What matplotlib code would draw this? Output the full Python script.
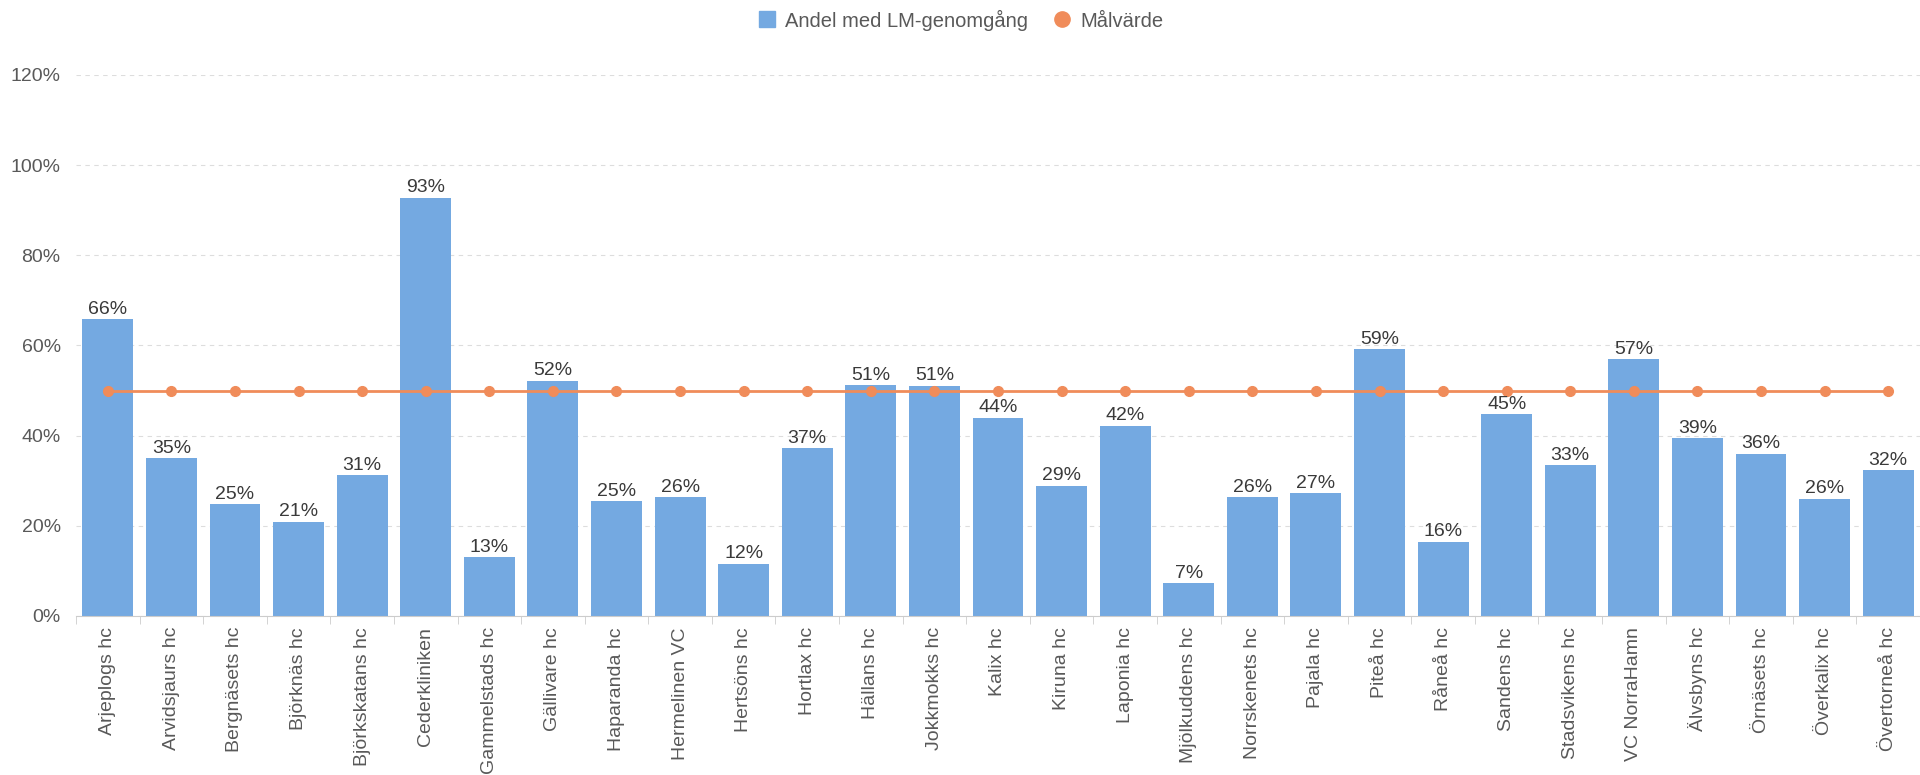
import matplotlib
matplotlib.use("Agg")
import matplotlib.pyplot as plt
from matplotlib.ticker import FixedLocator, PercentFormatter
from matplotlib.lines import Line2D
import numpy as np

categories = ["Arjeplogs hc", "Arvidsjaurs hc", "Bergnäsets hc", "Björknäs hc", "Björkskatans hc",
              "Cederkliniken", "Gammelstads hc", "Gällivare hc", "Haparanda hc", "Hermelinen VC",
              "Hertsöns hc", "Hortlax hc", "Hällans hc", "Jokkmokks hc", "Kalix hc", "Kiruna hc",
              "Laponia hc", "Mjölkuddens hc", "Norrskenets hc", "Pajala hc", "Piteå hc", "Råneå hc",
              "Sandens hc", "Stadsvikens hc", "VC NorraHamn", "Älvsbyns hc", "Örnäsets hc",
              "Överkalix hc", "Övertorneå hc"]
andel = [0.659, 0.35, 0.248, 0.209, 0.313, 0.928, 0.13, 0.522, 0.254, 0.263,
         0.116, 0.372, 0.512, 0.511, 0.44, 0.289, 0.422, 0.073, 0.264, 0.273,
         0.592, 0.165, 0.447, 0.334, 0.57, 0.394, 0.36, 0.26, 0.323]
malvarde = [0.5] * len(categories)
yticks = [0, 0.2, 0.4, 0.6, 0.8, 1.0, 1.2]

bar_color = "#74A9E1"
line_color = "#F08C5A"
text_color = "#595959"

plt.rcParams['font.family'] = ['Liberation Sans', 'DejaVu Sans']
fig = plt.figure(figsize=(19.2, 7.75), dpi=100)
ax = fig.add_axes([76/1920, 1 - 616/775, (1920 - 76)/1920, (616 - 75)/775])

x = np.arange(len(categories))
ax.bar(x, andel, width=0.8, color=bar_color, zorder=2, label="Andel med LM-genomgång")
ax.plot(x, malvarde, color=line_color, lw=2, marker="o", markersize=7, zorder=3, label="Målvärde")

for xi, v in zip(x, andel):
    ax.text(xi, v + 0.003, f"{round(v*100):.0f}%", ha="center", va="bottom",
            fontsize=14, color="#3a3a3a")

ax.set_xlim(-0.5, len(categories) - 0.5)
ax.set_ylim(0, 1.2)
ax.yaxis.set_major_locator(FixedLocator(yticks))
ax.yaxis.set_major_formatter(PercentFormatter(1.0, decimals=0))
ax.grid(axis="y", color="#DDDDDD", linestyle=(0, (4, 4)), lw=0.8, zorder=0)
for s in ["top", "right", "left"]:
    ax.spines[s].set_visible(False)
ax.spines["bottom"].set_color("#CCCCCC")
ax.tick_params(axis="y", length=0, labelsize=14, labelcolor=text_color, pad=11)
ax.set_xticks(x)
ax.set_xticklabels(categories, rotation=90, fontsize=14, color=text_color)
ax.tick_params(axis="x", length=0, pad=8)
ax.set_xticks(np.arange(len(categories) + 1) - 0.5, minor=True)
ax.tick_params(axis="x", which="minor", length=6, color="#CCCCCC")

handles = [Line2D([], [], marker="s", color=bar_color, lw=0, markersize=11),
           Line2D([], [], marker="o", color=line_color, lw=0, markersize=11)]
fig.legend(handles, ["Andel med LM-genomgång", "Målvärde"], loc="center",
           bbox_to_anchor=(0.5, 1 - 20/775), ncol=2, frameon=False, fontsize=14.5,
           labelcolor=text_color, handletextpad=0.4, columnspacing=1.2, handlelength=1.0)

fig.savefig("out.png", dpi=100)
